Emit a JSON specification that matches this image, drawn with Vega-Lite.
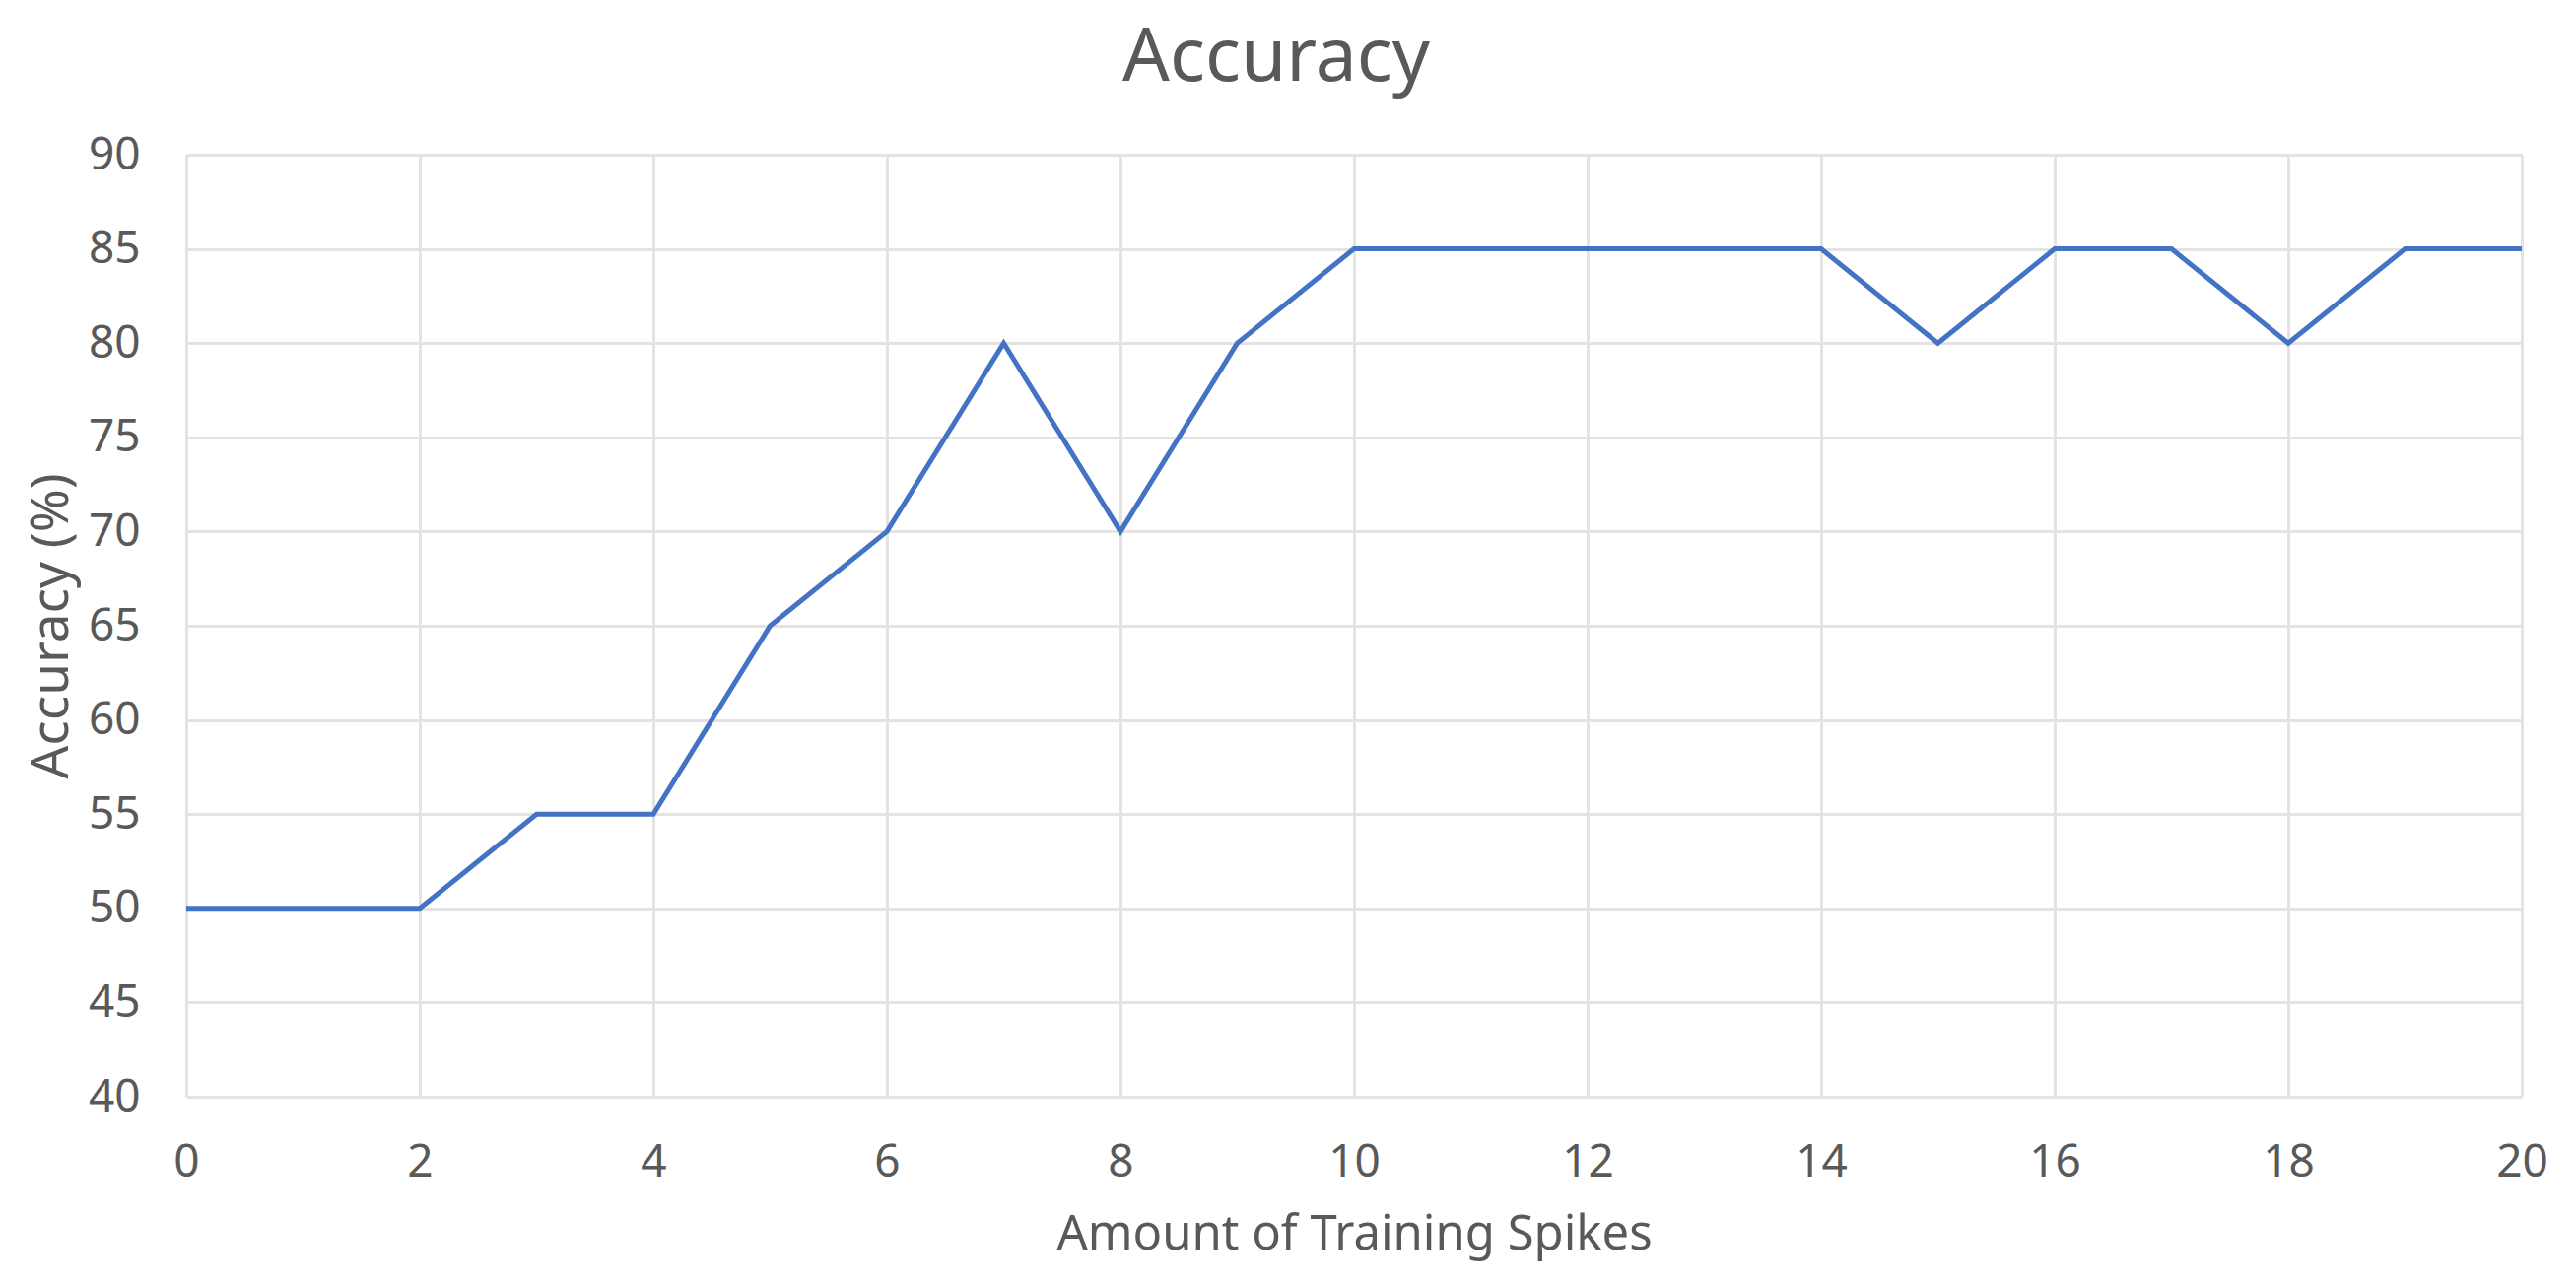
{
  "$schema": "https://vega.github.io/schema/vega-lite/v6.json",
  "autosize": "none",
  "width": 2370,
  "height": 956,
  "padding": {"left": 189, "top": 157, "right": 55, "bottom": 190},
  "background": "white",
  "title": {
    "text": "Accuracy",
    "fontSize": 75,
    "font": "Noto Sans",
    "fontWeight": "normal",
    "color": "#595959",
    "anchor": "middle",
    "offset": 36,
    "dx": -79
  },
  "config": {
    "view": {"stroke": null},
    "axis": {
      "labelFont": "Noto Sans",
      "titleFont": "Noto Sans",
      "labelColor": "#595959",
      "titleColor": "#595959",
      "titleFontWeight": "normal",
      "gridColor": "#e3e3e3",
      "gridWidth": 3,
      "domain": false,
      "ticks": false,
      "tickSize": 0
    }
  },
  "data": {
    "values": [
      {"spikes": 0, "accuracy": 50},
      {"spikes": 1, "accuracy": 50},
      {"spikes": 2, "accuracy": 50},
      {"spikes": 3, "accuracy": 55},
      {"spikes": 4, "accuracy": 55},
      {"spikes": 5, "accuracy": 65},
      {"spikes": 6, "accuracy": 70},
      {"spikes": 7, "accuracy": 80},
      {"spikes": 8, "accuracy": 70},
      {"spikes": 9, "accuracy": 80},
      {"spikes": 10, "accuracy": 85},
      {"spikes": 11, "accuracy": 85},
      {"spikes": 12, "accuracy": 85},
      {"spikes": 13, "accuracy": 85},
      {"spikes": 14, "accuracy": 85},
      {"spikes": 15, "accuracy": 80},
      {"spikes": 16, "accuracy": 85},
      {"spikes": 17, "accuracy": 85},
      {"spikes": 18, "accuracy": 80},
      {"spikes": 19, "accuracy": 85},
      {"spikes": 20, "accuracy": 85}
    ]
  },
  "mark": {"type": "line", "color": "#4472C4", "strokeWidth": 5, "clip": true},
  "encoding": {
    "x": {
      "field": "spikes",
      "type": "quantitative",
      "scale": {"domain": [0, 20], "nice": false, "zero": false},
      "axis": {
        "title": "Amount of Training Spikes",
        "values": [0, 2, 4, 6, 8, 10, 12, 14, 16, 18, 20],
        "labelFontSize": 46,
        "titleFontSize": 49,
        "labelPadding": 44,
        "titlePadding": 26,
        "labelFlush": false,
        "labelOverlap": false
      }
    },
    "y": {
      "field": "accuracy",
      "type": "quantitative",
      "scale": {"domain": [40, 90], "nice": false, "zero": false},
      "axis": {
        "title": "Accuracy (%)",
        "values": [40, 45, 50, 55, 60, 65, 70, 75, 80, 85, 90],
        "labelFontSize": 46,
        "titleFontSize": 53,
        "labelPadding": 47,
        "titlePadding": 10,
        "labelFlush": false,
        "labelOverlap": false
      }
    }
  }
}
